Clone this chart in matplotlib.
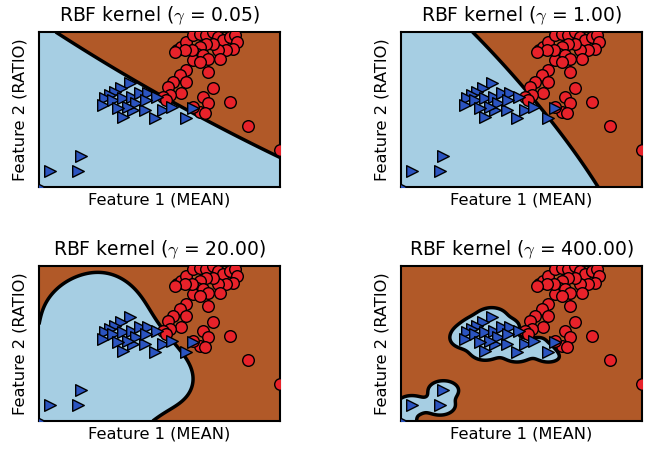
import numpy as np
import matplotlib
matplotlib.use("Agg")
import matplotlib.pyplot as plt

plt.rcParams['font.family'] = ['DejaVu Sans']
plt.rcParams['mathtext.fontset'] = 'cm'

# Class 1 (red circles): normalized Feature 1 (MEAN), Feature 2 (RATIO)
red_x = [0.584, 0.571, 0.591, 0.612, 0.640, 0.668, 0.695, 0.723, 0.744, 0.765,
         0.792, 0.813, 0.820, 0.806, 0.778, 0.744, 0.723, 0.695, 0.668, 0.654,
         0.681, 0.702, 0.751, 0.640, 0.668, 0.633, 0.605, 0.565,
         0.612, 0.584, 0.702, 0.612, 0.557, 0.536, 0.591, 0.543, 0.515, 0.529,
         0.723, 0.681, 0.702, 0.792, 0.668, 0.688, 0.640, 0.868, 1.000]
red_y = [0.893, 0.882, 0.904, 0.936, 0.979, 0.989, 0.979, 1.000, 0.968, 0.946,
         0.968, 0.979, 0.936, 0.893, 0.882, 0.882, 0.925, 0.925, 0.904, 0.861,
         0.850, 0.829, 0.829, 0.818, 0.807, 0.882, 0.882, 0.870,
         0.754, 0.722, 0.743, 0.679, 0.679, 0.647, 0.604, 0.593, 0.582, 0.561,
         0.636, 0.582, 0.540, 0.550, 0.486, 0.475, 0.518, 0.396, 0.240]

# Class 0 (blue triangles)
blue_x = [0.377, 0.342, 0.314, 0.294, 0.273, 0.266, 0.307, 0.349, 0.384, 0.418,
          0.453, 0.488, 0.515, 0.550, 0.640, 0.612, 0.481, 0.439, 0.391, 0.349,
          0.404, 0.370, 0.328, 0.446, 0.176, 0.162, 0.044, 0.000]
blue_y = [0.668, 0.636, 0.615, 0.593, 0.572, 0.529, 0.561, 0.572, 0.582, 0.604,
          0.604, 0.582, 0.497, 0.518, 0.507, 0.443, 0.443, 0.497, 0.497, 0.454,
          0.540, 0.518, 0.507, 0.561, 0.197, 0.101, 0.101, 0.000]

gammas = [0.05, 1.00, 20.00, 400.00]
C_values = [40000.0, 1.0, 1.0, 1.0]

X = np.column_stack([np.r_[blue_x, red_x], np.r_[blue_y, red_y]])
y = np.r_[-np.ones(len(blue_x)), np.ones(len(red_x))]


def rbf(A, B, g):
    d2 = ((A[:, None, :] - B[None, :, :]) ** 2).sum(-1)
    return np.exp(-g * d2)


def svm_fit(X, y, g, C, max_iter=300000, tol=1e-3):
    K = rbf(X, X, g)
    n = len(y)
    a = np.zeros(n)
    E = -y.copy()  # f_nobias(x) - y
    for _ in range(max_iter):
        up = ((y > 0) & (a < C)) | ((y < 0) & (a > 0))
        low = ((y > 0) & (a > 0)) | ((y < 0) & (a < C))
        mE = -E
        iu = np.where(up)[0]
        il = np.where(low)[0]
        i = iu[np.argmax(mE[iu])]
        j = il[np.argmin(mE[il])]
        if mE[i] - mE[j] < tol:
            break
        if y[i] != y[j]:
            L = max(0.0, a[j] - a[i]); H = min(C, C + a[j] - a[i])
        else:
            L = max(0.0, a[i] + a[j] - C); H = min(C, a[i] + a[j])
        eta = K[i, i] + K[j, j] - 2 * K[i, j]
        eta = max(eta, 1e-12)
        aj = min(max(a[j] + y[j] * (E[i] - E[j]) / eta, L), H)
        ai = a[i] + y[i] * y[j] * (a[j] - aj)
        dai, daj = ai - a[i], aj - a[j]
        a[i], a[j] = ai, aj
        E += y[i] * dai * K[:, i] + y[j] * daj * K[:, j]
    up = ((y > 0) & (a < C)) | ((y < 0) & (a > 0))
    low = ((y > 0) & (a > 0)) | ((y < 0) & (a < C))
    free = (a > 1e-8) & (a < C - 1e-8)
    if free.any():
        b = -E[free].mean()
    else:
        b = 0.5 * ((-E[up]).max() + (-E[low]).min())
    return a, b


xmin, xmax = 0.0, 1.0
ymin, ymax = 0.0, 1.0
gx, gy = np.meshgrid(np.linspace(xmin, xmax, 320), np.linspace(ymin, ymax, 240))
G = np.column_stack([gx.ravel(), gy.ravel()])

fig = plt.figure(figsize=(6.47, 4.51), dpi=100)
W, H = 647, 451
rects = [(39, 32), (401, 32), (39, 266), (401, 266)]
for k, (g, C) in enumerate(zip(gammas, C_values)):
    l, t = rects[k]
    ax = fig.add_axes([l / W, (H - t - 155) / H, 241 / W, 155 / H])
    a, b = svm_fit(X, y, g, C)
    Z = (rbf(G, X, g) @ (a * y) + b).reshape(gx.shape)
    ax.contourf(gx, gy, Z, levels=[-1e9, 0, 1e9], colors=['#a6cee3', '#b15928'])
    ax.contour(gx, gy, Z, levels=[0], colors='k', linewidths=2.5)
    ax.scatter(red_x, red_y, s=70, c='#e8222a', edgecolors='k', linewidths=1, zorder=3)
    ax.scatter(blue_x, blue_y, s=70, c='#2b54c0', marker='>', edgecolors='k', linewidths=1, zorder=3)
    ax.set_xlim(xmin, xmax)
    ax.set_ylim(ymin, ymax)
    ax.set_xticks([])
    ax.set_yticks([])
    for sp in ax.spines.values():
        sp.set_linewidth(1.5)
    ax.set_title(r'RBF kernel ($\gamma$ = ' + f'{g:.2f})', fontsize=13.5, pad=8)
    ax.set_xlabel('Feature 1 (MEAN)', fontsize=11.7)
    ax.set_ylabel('Feature 2 (RATIO)', fontsize=11.7, labelpad=8)

fig.savefig('out.png', dpi=100)
